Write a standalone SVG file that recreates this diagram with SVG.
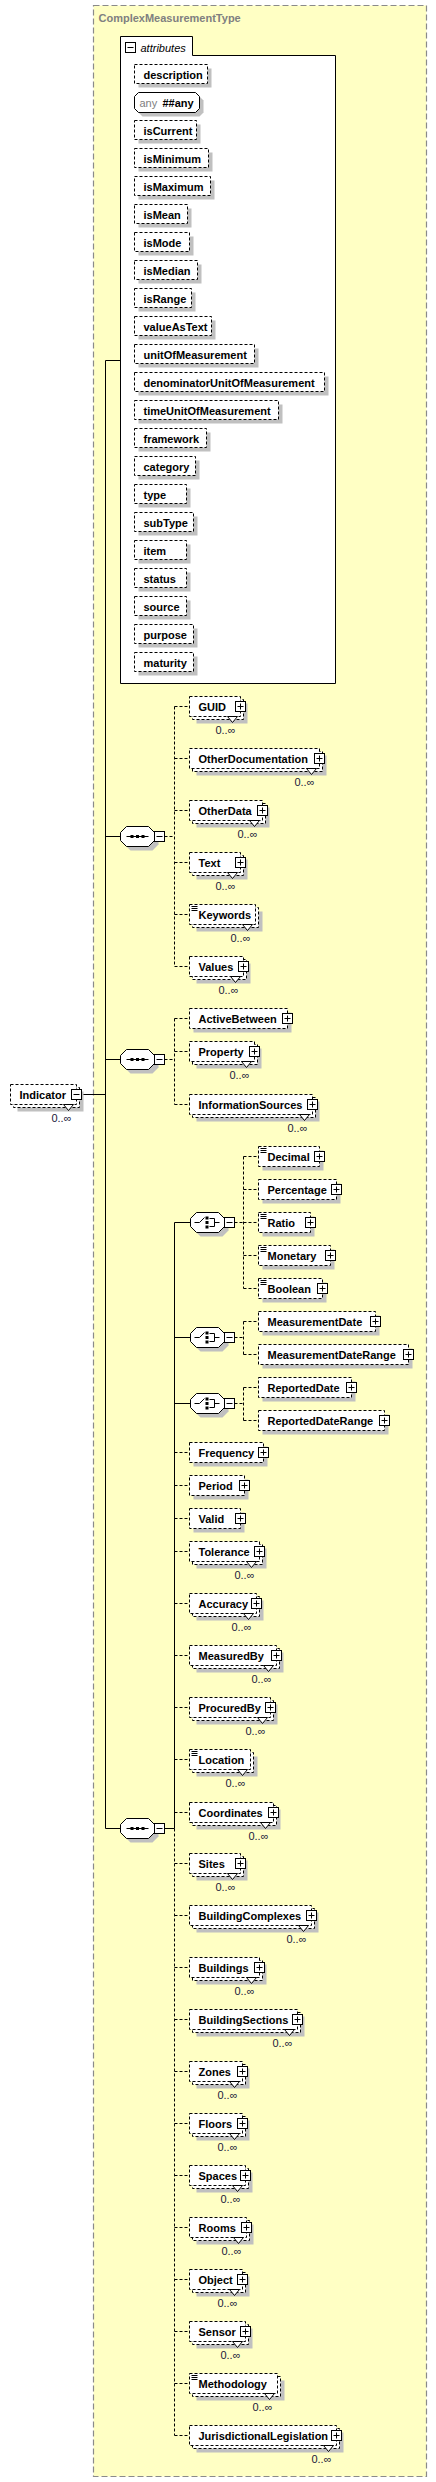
<svg xmlns="http://www.w3.org/2000/svg" width="436" height="2482" viewBox="0 0 436 2482">
<style>
.bg{fill:#FFFFC4;stroke:#8a8a8a;stroke-width:1.2;stroke-dasharray:6,3}
.sh{fill:#c0c0c0}
.bx{fill:#fff;stroke:#000;stroke-dasharray:3,2}
.pm{fill:#fff;stroke:#000}
.ln{stroke:#000;fill:none}
.dl{stroke:#000;fill:none;stroke-dasharray:3,2}
.ab{fill:#fff;stroke:#000}
.nm{font-family:"Liberation Sans",Arial,sans-serif;font-size:11px;font-weight:bold;fill:#000}
.oc{font-family:"Liberation Sans",Arial,sans-serif;font-size:11px;fill:#1a1a3a;text-anchor:end}
.tt{font-family:"Liberation Sans",Arial,sans-serif;font-size:11px;font-weight:bold;fill:#808080}
.it{font-family:"Liberation Sans",Arial,sans-serif;font-size:11px;font-style:italic;fill:#000}
.gr{font-family:"Liberation Sans",Arial,sans-serif;font-size:11px;fill:#808080}
.tri{fill:#fff;stroke:#000}
.dot{fill:#000}
</style>
<g transform="translate(.5 .5)">
<g id="complexType">
<rect class="bg" x="93" y="5" width="333" height="2471"/>
<text class="tt" x="98" y="21">ComplexMeasurementType</text>
</g>
<g id="attributes">
<path class="ab" d="M120 683V36H192V55H335V683Z"/>
<rect class="pm" x="125" y="42" width="10" height="10"/><path class="ln" d="M127 47H133"/>
<text class="it" x="140" y="51">attributes</text>
<g id="attr-description"><rect class="sh" x="138" y="68" width="73" height="19"/><rect class="bx" x="134" y="64" width="73" height="19"/><text class="nm" x="143" y="78">description</text></g>
<g id="attr-any"><polygon class="sh" points="142,96 199,96 203,100 203,112 199,116 142,116 138,112 138,100"/><polygon class="ab" points="138,92 195,92 199,96 199,108 195,112 138,112 134,108 134,96"/><text class="gr" x="139" y="106">any</text><text class="nm" x="162" y="106">##any</text></g>
<g id="attr-isCurrent"><rect class="sh" x="138" y="124" width="62" height="19"/><rect class="bx" x="134" y="120" width="62" height="19"/><text class="nm" x="143" y="134">isCurrent</text></g>
<g id="attr-isMinimum"><rect class="sh" x="138" y="152" width="74" height="19"/><rect class="bx" x="134" y="148" width="74" height="19"/><text class="nm" x="143" y="162">isMinimum</text></g>
<g id="attr-isMaximum"><rect class="sh" x="138" y="180" width="76" height="19"/><rect class="bx" x="134" y="176" width="76" height="19"/><text class="nm" x="143" y="190">isMaximum</text></g>
<g id="attr-isMean"><rect class="sh" x="138" y="208" width="53" height="19"/><rect class="bx" x="134" y="204" width="53" height="19"/><text class="nm" x="143" y="218">isMean</text></g>
<g id="attr-isMode"><rect class="sh" x="138" y="236" width="55" height="19"/><rect class="bx" x="134" y="232" width="55" height="19"/><text class="nm" x="143" y="246">isMode</text></g>
<g id="attr-isMedian"><rect class="sh" x="138" y="264" width="63" height="19"/><rect class="bx" x="134" y="260" width="63" height="19"/><text class="nm" x="143" y="274">isMedian</text></g>
<g id="attr-isRange"><rect class="sh" x="138" y="292" width="57" height="19"/><rect class="bx" x="134" y="288" width="57" height="19"/><text class="nm" x="143" y="302">isRange</text></g>
<g id="attr-valueAsText"><rect class="sh" x="138" y="320" width="77" height="19"/><rect class="bx" x="134" y="316" width="77" height="19"/><text class="nm" x="143" y="330">valueAsText</text></g>
<g id="attr-unitOfMeasurement"><rect class="sh" x="138" y="348" width="120" height="19"/><rect class="bx" x="134" y="344" width="120" height="19"/><text class="nm" x="143" y="358">unitOfMeasurement</text></g>
<g id="attr-denominatorUnitOfMeasurement"><rect class="sh" x="138" y="376" width="190" height="19"/><rect class="bx" x="134" y="372" width="190" height="19"/><text class="nm" x="143" y="386">denominatorUnitOfMeasurement</text></g>
<g id="attr-timeUnitOfMeasurement"><rect class="sh" x="138" y="404" width="144" height="19"/><rect class="bx" x="134" y="400" width="144" height="19"/><text class="nm" x="143" y="414">timeUnitOfMeasurement</text></g>
<g id="attr-framework"><rect class="sh" x="138" y="432" width="72" height="19"/><rect class="bx" x="134" y="428" width="72" height="19"/><text class="nm" x="143" y="442">framework</text></g>
<g id="attr-category"><rect class="sh" x="138" y="460" width="61" height="19"/><rect class="bx" x="134" y="456" width="61" height="19"/><text class="nm" x="143" y="470">category</text></g>
<g id="attr-type"><rect class="sh" x="138" y="488" width="52" height="19"/><rect class="bx" x="134" y="484" width="52" height="19"/><text class="nm" x="143" y="498">type</text></g>
<g id="attr-subType"><rect class="sh" x="138" y="516" width="59" height="19"/><rect class="bx" x="134" y="512" width="59" height="19"/><text class="nm" x="143" y="526">subType</text></g>
<g id="attr-item"><rect class="sh" x="138" y="544" width="52" height="19"/><rect class="bx" x="134" y="540" width="52" height="19"/><text class="nm" x="143" y="554">item</text></g>
<g id="attr-status"><rect class="sh" x="138" y="572" width="52" height="19"/><rect class="bx" x="134" y="568" width="52" height="19"/><text class="nm" x="143" y="582">status</text></g>
<g id="attr-source"><rect class="sh" x="138" y="600" width="52" height="19"/><rect class="bx" x="134" y="596" width="52" height="19"/><text class="nm" x="143" y="610">source</text></g>
<g id="attr-purpose"><rect class="sh" x="138" y="628" width="59" height="19"/><rect class="bx" x="134" y="624" width="59" height="19"/><text class="nm" x="143" y="638">purpose</text></g>
<g id="attr-maturity"><rect class="sh" x="138" y="656" width="59" height="19"/><rect class="bx" x="134" y="652" width="59" height="19"/><text class="nm" x="143" y="666">maturity</text></g>
</g>
<g id="connectors">
<path class="ln" d="M81 1094H105M105 360V1828M105 360H120M105 836H120M105 1059H120M105 1828H120"/>
<path class="dl" d="M164 836H174M174 706V966M174 706H189M174 758H189M174 810H189M174 862H189M174 914H189M174 966H189"/>
<path class="dl" d="M164 1059H174M174 1018V1104M174 1018H189M174 1051H189M174 1104H189"/>
<path class="ln" d="M164 1828H174M174 1222V1828M174 1222H190M174 1337H190M174 1403H190"/>
<path class="dl" d="M174 1828V2435M174 1452H189M174 1485H189M174 1518H189M174 1551H189M174 1603H189M174 1655H189M174 1707H189M174 1759H189M174 1812H189M174 1863H189M174 1915H189M174 1967H189M174 2019H189M174 2071H189M174 2123H189M174 2175H189M174 2227H189M174 2279H189M174 2331H189M174 2383H189M174 2435H189"/>
<path class="dl" d="M234 1222H243M243 1156V1288M243 1156H258M243 1189H258M243 1222H258M243 1255H258M243 1288H258"/>
<path class="dl" d="M234 1337H243M243 1321V1354M243 1321H258M243 1354H258"/>
<path class="dl" d="M234 1403H243M243 1387V1420M243 1387H258M243 1420H258"/>
</g>
<g id="Indicator"><rect class="sh" x="17" y="1091" width="66" height="20"/><rect class="bx" x="13" y="1087" width="66" height="20"/><rect class="bx" x="10" y="1084" width="66" height="20"/><text class="nm" x="19" y="1098">Indicator</text><rect class="pm" x="71" y="1089" width="10" height="10"/><path class="ln" d="M73 1094H79"/><polygon class="tri" points="63,1104 73,1104 68,1110"/><text class="oc" x="71" y="1121">0..∞</text></g>
<g id="sequence1"><polygon class="sh" points="130,830 152,830 158,836 158,844 152,850 130,850 124,844 124,836"/><polygon class="ab" points="126,826 148,826 154,832 154,840 148,846 126,846 120,840 120,832"/><path class="ln" d="M126 836H148"/><rect class="dot" x="130" y="834.5" width="3" height="3"/><rect class="dot" x="135.5" y="834.5" width="3" height="3"/><rect class="dot" x="141" y="834.5" width="3" height="3"/><rect class="pm" x="154" y="831" width="10" height="10"/><path class="ln" d="M156 836H162"/></g>
<g id="sequence2"><polygon class="sh" points="130,1053 152,1053 158,1059 158,1067 152,1073 130,1073 124,1067 124,1059"/><polygon class="ab" points="126,1049 148,1049 154,1055 154,1063 148,1069 126,1069 120,1063 120,1055"/><path class="ln" d="M126 1059H148"/><rect class="dot" x="130" y="1057.5" width="3" height="3"/><rect class="dot" x="135.5" y="1057.5" width="3" height="3"/><rect class="dot" x="141" y="1057.5" width="3" height="3"/><rect class="pm" x="154" y="1054" width="10" height="10"/><path class="ln" d="M156 1059H162"/></g>
<g id="sequence3"><polygon class="sh" points="130,1822 152,1822 158,1828 158,1836 152,1842 130,1842 124,1836 124,1828"/><polygon class="ab" points="126,1818 148,1818 154,1824 154,1832 148,1838 126,1838 120,1832 120,1824"/><path class="ln" d="M126 1828H148"/><rect class="dot" x="130" y="1826.5" width="3" height="3"/><rect class="dot" x="135.5" y="1826.5" width="3" height="3"/><rect class="dot" x="141" y="1826.5" width="3" height="3"/><rect class="pm" x="154" y="1823" width="10" height="10"/><path class="ln" d="M156 1828H162"/></g>
<g id="choice1"><polygon class="sh" points="200,1216 222,1216 228,1222 228,1230 222,1236 200,1236 194,1230 194,1222"/><polygon class="ab" points="196,1212 218,1212 224,1218 224,1226 218,1232 196,1232 190,1226 190,1218"/><path class="ln" d="M194 1222H199L204 1217M209 1218H214V1226H209M214 1222H219"/><rect class="dot" x="205" y="1216" width="3" height="3"/><rect class="dot" x="205" y="1220.5" width="3" height="3"/><rect class="dot" x="205" y="1225" width="3" height="3"/><rect class="pm" x="224" y="1217" width="10" height="10"/><path class="ln" d="M226 1222H232"/></g>
<g id="choice2"><polygon class="sh" points="200,1331 222,1331 228,1337 228,1345 222,1351 200,1351 194,1345 194,1337"/><polygon class="ab" points="196,1327 218,1327 224,1333 224,1341 218,1347 196,1347 190,1341 190,1333"/><path class="ln" d="M194 1337H199L204 1332M209 1333H214V1341H209M214 1337H219"/><rect class="dot" x="205" y="1331" width="3" height="3"/><rect class="dot" x="205" y="1335.5" width="3" height="3"/><rect class="dot" x="205" y="1340" width="3" height="3"/><rect class="pm" x="224" y="1332" width="10" height="10"/><path class="ln" d="M226 1337H232"/></g>
<g id="choice3"><polygon class="sh" points="200,1397 222,1397 228,1403 228,1411 222,1417 200,1417 194,1411 194,1403"/><polygon class="ab" points="196,1393 218,1393 224,1399 224,1407 218,1413 196,1413 190,1407 190,1399"/><path class="ln" d="M194 1403H199L204 1398M209 1399H214V1407H209M214 1403H219"/><rect class="dot" x="205" y="1397" width="3" height="3"/><rect class="dot" x="205" y="1401.5" width="3" height="3"/><rect class="dot" x="205" y="1406" width="3" height="3"/><rect class="pm" x="224" y="1398" width="10" height="10"/><path class="ln" d="M226 1403H232"/></g>
<g id="GUID"><rect class="sh" x="196" y="703" width="51" height="20"/><rect class="bx" x="192" y="699" width="51" height="20"/><rect class="bx" x="189" y="696" width="51" height="20"/><text class="nm" x="198" y="710">GUID</text><rect class="pm" x="235" y="701" width="10" height="10"/><path class="ln" d="M237 706H243M240 703V709"/><polygon class="tri" points="227,716 237,716 232,722"/><text class="oc" x="235" y="733">0..∞</text></g>
<g id="OtherDocumentation"><rect class="sh" x="196" y="755" width="130" height="20"/><rect class="bx" x="192" y="751" width="130" height="20"/><rect class="bx" x="189" y="748" width="130" height="20"/><text class="nm" x="198" y="762">OtherDocumentation</text><rect class="pm" x="314" y="753" width="10" height="10"/><path class="ln" d="M316 758H322M319 755V761"/><polygon class="tri" points="306,768 316,768 311,774"/><text class="oc" x="314" y="785">0..∞</text></g>
<g id="OtherData"><rect class="sh" x="196" y="807" width="73" height="20"/><rect class="bx" x="192" y="803" width="73" height="20"/><rect class="bx" x="189" y="800" width="73" height="20"/><text class="nm" x="198" y="814">OtherData</text><rect class="pm" x="257" y="805" width="10" height="10"/><path class="ln" d="M259 810H265M262 807V813"/><polygon class="tri" points="249,820 259,820 254,826"/><text class="oc" x="257" y="837">0..∞</text></g>
<g id="Text"><rect class="sh" x="196" y="859" width="51" height="20"/><rect class="bx" x="192" y="855" width="51" height="20"/><rect class="bx" x="189" y="852" width="51" height="20"/><text class="nm" x="198" y="866">Text</text><rect class="pm" x="235" y="857" width="10" height="10"/><path class="ln" d="M237 862H243M240 859V865"/><polygon class="tri" points="227,872 237,872 232,878"/><text class="oc" x="235" y="889">0..∞</text></g>
<g id="Keywords"><rect class="sh" x="196" y="911" width="66" height="20"/><rect class="bx" x="192" y="907" width="66" height="20"/><rect class="bx" x="189" y="904" width="66" height="20"/><path class="ln" d="M191 906h6M191 908h6M191 910h6"/><text class="nm" x="198" y="918">Keywords</text><polygon class="tri" points="242,924 252,924 247,930"/><text class="oc" x="250" y="941">0..∞</text></g>
<g id="Values"><rect class="sh" x="196" y="963" width="54" height="20"/><rect class="bx" x="192" y="959" width="54" height="20"/><rect class="bx" x="189" y="956" width="54" height="20"/><text class="nm" x="198" y="970">Values</text><rect class="pm" x="238" y="961" width="10" height="10"/><path class="ln" d="M240 966H246M243 963V969"/><polygon class="tri" points="230,976 240,976 235,982"/><text class="oc" x="238" y="993">0..∞</text></g>
<g id="ActiveBetween"><rect class="sh" x="193" y="1012" width="98" height="20"/><rect class="bx" x="189" y="1008" width="98" height="20"/><text class="nm" x="198" y="1022">ActiveBetween</text><rect class="pm" x="282" y="1013" width="10" height="10"/><path class="ln" d="M284 1018H290M287 1015V1021"/></g>
<g id="Property"><rect class="sh" x="196" y="1048" width="65" height="20"/><rect class="bx" x="192" y="1044" width="65" height="20"/><rect class="bx" x="189" y="1041" width="65" height="20"/><text class="nm" x="198" y="1055">Property</text><rect class="pm" x="249" y="1046" width="10" height="10"/><path class="ln" d="M251 1051H257M254 1048V1054"/><polygon class="tri" points="241,1061 251,1061 246,1067"/><text class="oc" x="249" y="1078">0..∞</text></g>
<g id="InformationSources"><rect class="sh" x="196" y="1101" width="123" height="20"/><rect class="bx" x="192" y="1097" width="123" height="20"/><rect class="bx" x="189" y="1094" width="123" height="20"/><text class="nm" x="198" y="1108">InformationSources</text><rect class="pm" x="307" y="1099" width="10" height="10"/><path class="ln" d="M309 1104H315M312 1101V1107"/><polygon class="tri" points="299,1114 309,1114 304,1120"/><text class="oc" x="307" y="1131">0..∞</text></g>
<g id="Decimal"><rect class="sh" x="262" y="1150" width="61" height="20"/><rect class="bx" x="258" y="1146" width="61" height="20"/><path class="ln" d="M260 1148h6M260 1150h6M260 1152h6"/><text class="nm" x="267" y="1160">Decimal</text><rect class="pm" x="314" y="1151" width="10" height="10"/><path class="ln" d="M316 1156H322M319 1153V1159"/></g>
<g id="Percentage"><rect class="sh" x="262" y="1183" width="78" height="20"/><rect class="bx" x="258" y="1179" width="78" height="20"/><text class="nm" x="267" y="1193">Percentage</text><rect class="pm" x="331" y="1184" width="10" height="10"/><path class="ln" d="M333 1189H339M336 1186V1192"/></g>
<g id="Ratio"><rect class="sh" x="262" y="1216" width="52" height="20"/><rect class="bx" x="258" y="1212" width="52" height="20"/><path class="ln" d="M260 1214h6M260 1216h6M260 1218h6"/><text class="nm" x="267" y="1226">Ratio</text><rect class="pm" x="305" y="1217" width="10" height="10"/><path class="ln" d="M307 1222H313M310 1219V1225"/></g>
<g id="Monetary"><rect class="sh" x="262" y="1249" width="72" height="20"/><rect class="bx" x="258" y="1245" width="72" height="20"/><path class="ln" d="M260 1247h6M260 1249h6M260 1251h6"/><text class="nm" x="267" y="1259">Monetary</text><rect class="pm" x="325" y="1250" width="10" height="10"/><path class="ln" d="M327 1255H333M330 1252V1258"/></g>
<g id="Boolean"><rect class="sh" x="262" y="1282" width="64" height="20"/><rect class="bx" x="258" y="1278" width="64" height="20"/><path class="ln" d="M260 1280h6M260 1282h6M260 1284h6"/><text class="nm" x="267" y="1292">Boolean</text><rect class="pm" x="317" y="1283" width="10" height="10"/><path class="ln" d="M319 1288H325M322 1285V1291"/></g>
<g id="MeasurementDate"><rect class="sh" x="262" y="1315" width="117" height="20"/><rect class="bx" x="258" y="1311" width="117" height="20"/><text class="nm" x="267" y="1325">MeasurementDate</text><rect class="pm" x="370" y="1316" width="10" height="10"/><path class="ln" d="M372 1321H378M375 1318V1324"/></g>
<g id="MeasurementDateRange"><rect class="sh" x="262" y="1348" width="150" height="20"/><rect class="bx" x="258" y="1344" width="150" height="20"/><text class="nm" x="267" y="1358">MeasurementDateRange</text><rect class="pm" x="403" y="1349" width="10" height="10"/><path class="ln" d="M405 1354H411M408 1351V1357"/></g>
<g id="ReportedDate"><rect class="sh" x="262" y="1381" width="93" height="20"/><rect class="bx" x="258" y="1377" width="93" height="20"/><text class="nm" x="267" y="1391">ReportedDate</text><rect class="pm" x="346" y="1382" width="10" height="10"/><path class="ln" d="M348 1387H354M351 1384V1390"/></g>
<g id="ReportedDateRange"><rect class="sh" x="262" y="1414" width="126" height="20"/><rect class="bx" x="258" y="1410" width="126" height="20"/><text class="nm" x="267" y="1424">ReportedDateRange</text><rect class="pm" x="379" y="1415" width="10" height="10"/><path class="ln" d="M381 1420H387M384 1417V1423"/></g>
<g id="Frequency"><rect class="sh" x="193" y="1446" width="74" height="20"/><rect class="bx" x="189" y="1442" width="74" height="20"/><text class="nm" x="198" y="1456">Frequency</text><rect class="pm" x="258" y="1447" width="10" height="10"/><path class="ln" d="M260 1452H266M263 1449V1455"/></g>
<g id="Period"><rect class="sh" x="193" y="1479" width="55" height="20"/><rect class="bx" x="189" y="1475" width="55" height="20"/><text class="nm" x="198" y="1489">Period</text><rect class="pm" x="239" y="1480" width="10" height="10"/><path class="ln" d="M241 1485H247M244 1482V1488"/></g>
<g id="Valid"><rect class="sh" x="193" y="1512" width="51" height="20"/><rect class="bx" x="189" y="1508" width="51" height="20"/><text class="nm" x="198" y="1522">Valid</text><rect class="pm" x="235" y="1513" width="10" height="10"/><path class="ln" d="M237 1518H243M240 1515V1521"/></g>
<g id="Tolerance"><rect class="sh" x="196" y="1548" width="70" height="20"/><rect class="bx" x="192" y="1544" width="70" height="20"/><rect class="bx" x="189" y="1541" width="70" height="20"/><text class="nm" x="198" y="1555">Tolerance</text><rect class="pm" x="254" y="1546" width="10" height="10"/><path class="ln" d="M256 1551H262M259 1548V1554"/><polygon class="tri" points="246,1561 256,1561 251,1567"/><text class="oc" x="254" y="1578">0..∞</text></g>
<g id="Accuracy"><rect class="sh" x="196" y="1600" width="67" height="20"/><rect class="bx" x="192" y="1596" width="67" height="20"/><rect class="bx" x="189" y="1593" width="67" height="20"/><text class="nm" x="198" y="1607">Accuracy</text><rect class="pm" x="251" y="1598" width="10" height="10"/><path class="ln" d="M253 1603H259M256 1600V1606"/><polygon class="tri" points="243,1613 253,1613 248,1619"/><text class="oc" x="251" y="1630">0..∞</text></g>
<g id="MeasuredBy"><rect class="sh" x="196" y="1652" width="87" height="20"/><rect class="bx" x="192" y="1648" width="87" height="20"/><rect class="bx" x="189" y="1645" width="87" height="20"/><text class="nm" x="198" y="1659">MeasuredBy</text><rect class="pm" x="271" y="1650" width="10" height="10"/><path class="ln" d="M273 1655H279M276 1652V1658"/><polygon class="tri" points="263,1665 273,1665 268,1671"/><text class="oc" x="271" y="1682">0..∞</text></g>
<g id="ProcuredBy"><rect class="sh" x="196" y="1704" width="81" height="20"/><rect class="bx" x="192" y="1700" width="81" height="20"/><rect class="bx" x="189" y="1697" width="81" height="20"/><text class="nm" x="198" y="1711">ProcuredBy</text><rect class="pm" x="265" y="1702" width="10" height="10"/><path class="ln" d="M267 1707H273M270 1704V1710"/><polygon class="tri" points="257,1717 267,1717 262,1723"/><text class="oc" x="265" y="1734">0..∞</text></g>
<g id="Location"><rect class="sh" x="196" y="1756" width="61" height="20"/><rect class="bx" x="192" y="1752" width="61" height="20"/><rect class="bx" x="189" y="1749" width="61" height="20"/><path class="ln" d="M191 1751h6M191 1753h6M191 1755h6"/><text class="nm" x="198" y="1763">Location</text><polygon class="tri" points="237,1769 247,1769 242,1775"/><text class="oc" x="245" y="1786">0..∞</text></g>
<g id="Coordinates"><rect class="sh" x="196" y="1809" width="84" height="20"/><rect class="bx" x="192" y="1805" width="84" height="20"/><rect class="bx" x="189" y="1802" width="84" height="20"/><text class="nm" x="198" y="1816">Coordinates</text><rect class="pm" x="268" y="1807" width="10" height="10"/><path class="ln" d="M270 1812H276M273 1809V1815"/><polygon class="tri" points="260,1822 270,1822 265,1828"/><text class="oc" x="268" y="1839">0..∞</text></g>
<g id="Sites"><rect class="sh" x="196" y="1860" width="51" height="20"/><rect class="bx" x="192" y="1856" width="51" height="20"/><rect class="bx" x="189" y="1853" width="51" height="20"/><text class="nm" x="198" y="1867">Sites</text><rect class="pm" x="235" y="1858" width="10" height="10"/><path class="ln" d="M237 1863H243M240 1860V1866"/><polygon class="tri" points="227,1873 237,1873 232,1879"/><text class="oc" x="235" y="1890">0..∞</text></g>
<g id="BuildingComplexes"><rect class="sh" x="196" y="1912" width="122" height="20"/><rect class="bx" x="192" y="1908" width="122" height="20"/><rect class="bx" x="189" y="1905" width="122" height="20"/><text class="nm" x="198" y="1919">BuildingComplexes</text><rect class="pm" x="306" y="1910" width="10" height="10"/><path class="ln" d="M308 1915H314M311 1912V1918"/><polygon class="tri" points="298,1925 308,1925 303,1931"/><text class="oc" x="306" y="1942">0..∞</text></g>
<g id="Buildings"><rect class="sh" x="196" y="1964" width="70" height="20"/><rect class="bx" x="192" y="1960" width="70" height="20"/><rect class="bx" x="189" y="1957" width="70" height="20"/><text class="nm" x="198" y="1971">Buildings</text><rect class="pm" x="254" y="1962" width="10" height="10"/><path class="ln" d="M256 1967H262M259 1964V1970"/><polygon class="tri" points="246,1977 256,1977 251,1983"/><text class="oc" x="254" y="1994">0..∞</text></g>
<g id="BuildingSections"><rect class="sh" x="196" y="2016" width="108" height="20"/><rect class="bx" x="192" y="2012" width="108" height="20"/><rect class="bx" x="189" y="2009" width="108" height="20"/><text class="nm" x="198" y="2023">BuildingSections</text><rect class="pm" x="292" y="2014" width="10" height="10"/><path class="ln" d="M294 2019H300M297 2016V2022"/><polygon class="tri" points="284,2029 294,2029 289,2035"/><text class="oc" x="292" y="2046">0..∞</text></g>
<g id="Zones"><rect class="sh" x="196" y="2068" width="53" height="20"/><rect class="bx" x="192" y="2064" width="53" height="20"/><rect class="bx" x="189" y="2061" width="53" height="20"/><text class="nm" x="198" y="2075">Zones</text><rect class="pm" x="237" y="2066" width="10" height="10"/><path class="ln" d="M239 2071H245M242 2068V2074"/><polygon class="tri" points="229,2081 239,2081 234,2087"/><text class="oc" x="237" y="2098">0..∞</text></g>
<g id="Floors"><rect class="sh" x="196" y="2120" width="53" height="20"/><rect class="bx" x="192" y="2116" width="53" height="20"/><rect class="bx" x="189" y="2113" width="53" height="20"/><text class="nm" x="198" y="2127">Floors</text><rect class="pm" x="237" y="2118" width="10" height="10"/><path class="ln" d="M239 2123H245M242 2120V2126"/><polygon class="tri" points="229,2133 239,2133 234,2139"/><text class="oc" x="237" y="2150">0..∞</text></g>
<g id="Spaces"><rect class="sh" x="196" y="2172" width="56" height="20"/><rect class="bx" x="192" y="2168" width="56" height="20"/><rect class="bx" x="189" y="2165" width="56" height="20"/><text class="nm" x="198" y="2179">Spaces</text><rect class="pm" x="240" y="2170" width="10" height="10"/><path class="ln" d="M242 2175H248M245 2172V2178"/><polygon class="tri" points="232,2185 242,2185 237,2191"/><text class="oc" x="240" y="2202">0..∞</text></g>
<g id="Rooms"><rect class="sh" x="196" y="2224" width="57" height="20"/><rect class="bx" x="192" y="2220" width="57" height="20"/><rect class="bx" x="189" y="2217" width="57" height="20"/><text class="nm" x="198" y="2231">Rooms</text><rect class="pm" x="241" y="2222" width="10" height="10"/><path class="ln" d="M243 2227H249M246 2224V2230"/><polygon class="tri" points="233,2237 243,2237 238,2243"/><text class="oc" x="241" y="2254">0..∞</text></g>
<g id="Object"><rect class="sh" x="196" y="2276" width="53" height="20"/><rect class="bx" x="192" y="2272" width="53" height="20"/><rect class="bx" x="189" y="2269" width="53" height="20"/><text class="nm" x="198" y="2283">Object</text><rect class="pm" x="237" y="2274" width="10" height="10"/><path class="ln" d="M239 2279H245M242 2276V2282"/><polygon class="tri" points="229,2289 239,2289 234,2295"/><text class="oc" x="237" y="2306">0..∞</text></g>
<g id="Sensor"><rect class="sh" x="196" y="2328" width="56" height="20"/><rect class="bx" x="192" y="2324" width="56" height="20"/><rect class="bx" x="189" y="2321" width="56" height="20"/><text class="nm" x="198" y="2335">Sensor</text><rect class="pm" x="240" y="2326" width="10" height="10"/><path class="ln" d="M242 2331H248M245 2328V2334"/><polygon class="tri" points="232,2341 242,2341 237,2347"/><text class="oc" x="240" y="2358">0..∞</text></g>
<g id="Methodology"><rect class="sh" x="196" y="2380" width="88" height="20"/><rect class="bx" x="192" y="2376" width="88" height="20"/><rect class="bx" x="189" y="2373" width="88" height="20"/><path class="ln" d="M191 2375h6M191 2377h6M191 2379h6"/><text class="nm" x="198" y="2387">Methodology</text><polygon class="tri" points="264,2393 274,2393 269,2399"/><text class="oc" x="272" y="2410">0..∞</text></g>
<g id="JurisdictionalLegislation"><rect class="sh" x="196" y="2432" width="147" height="20"/><rect class="bx" x="192" y="2428" width="147" height="20"/><rect class="bx" x="189" y="2425" width="147" height="20"/><text class="nm" x="198" y="2439">JurisdictionalLegislation</text><rect class="pm" x="331" y="2430" width="10" height="10"/><path class="ln" d="M333 2435H339M336 2432V2438"/><polygon class="tri" points="323,2445 333,2445 328,2451"/><text class="oc" x="331" y="2462">0..∞</text></g>
</g>
</svg>
